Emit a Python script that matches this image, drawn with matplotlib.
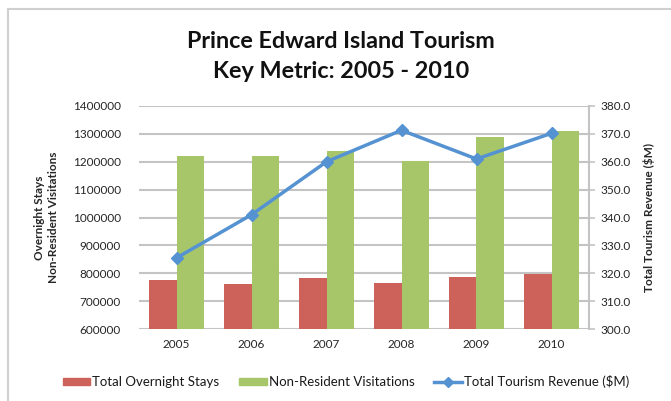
import matplotlib.pyplot as plt
import numpy as np
from matplotlib.lines import Line2D
from matplotlib.patches import Patch, Rectangle
from matplotlib.ticker import FormatStrFormatter, MultipleLocator

plt.rcParams['font.family'] = ['Lato', 'DejaVu Sans']

years = ['2005', '2006', '2007', '2008', '2009', '2010']
overnight_stays = [774000, 762000, 783000, 766000, 786000, 798000]
non_resident_visits = [1222000, 1222000, 1237000, 1201000, 1290000, 1310000]
revenue = [325.5, 341.0, 360.0, 371.3, 361.0, 370.2]

RED = '#CD625B'
GREEN = '#A7C66A'
BLUE = '#5592D2'
GRID = '#C4C4C4'
TEXT = '#262626'

fig = plt.figure(figsize=(6.71, 4.01), dpi=100)

# light frame around the chart area
fig.patches.append(Rectangle((8 / 671, -0.1), 1.2, 1.1 - 9 / 401,
                             transform=fig.transFigure, fill=False,
                             edgecolor='#D0D0D0', linewidth=1.5))

ax1 = fig.add_axes([139 / 671, 1 - 329 / 401, 450 / 671, 223 / 401])
x = np.arange(len(years))
w = 0.37

ax1.bar(x - w / 2, overnight_stays, w, color=RED, zorder=2)
ax1.bar(x + w / 2, non_resident_visits, w, color=GREEN, zorder=2)

ax1.set_xlim(-0.5, len(years) - 0.5)
ax1.set_ylim(600000, 1400000)
ax1.yaxis.set_major_locator(MultipleLocator(100000))
ax1.yaxis.set_major_formatter(FormatStrFormatter('%d'))
ax1.yaxis.grid(True, color=GRID, linewidth=1.5, zorder=0)
ax1.set_axisbelow(True)
ax1.set_xticks(x)
ax1.set_xticklabels(years)
ax1.tick_params(axis='both', length=0, labelsize=8.5, colors=TEXT, pad=7)
ax1.tick_params(axis='y', pad=13)
for s in ax1.spines.values():
    s.set_visible(False)
ax1.set_ylabel('Overnight Stays\nNon-Resident Visitations', fontsize=8.5,
               fontweight='bold', color=TEXT, labelpad=10, linespacing=1.35)

# revenue on the secondary axis
ax2 = ax1.twinx()
ax2.plot(x, revenue, color=BLUE, linewidth=2.5, marker='D', markersize=6,
         zorder=3)
ax2.set_ylim(300, 380)
ax2.yaxis.set_major_locator(MultipleLocator(10))
ax2.yaxis.set_major_formatter(FormatStrFormatter('%.1f'))
ax2.tick_params(axis='y', direction='out', length=4, width=1.2, color=GRID,
                labelsize=8.5, labelcolor=TEXT, pad=4)
for k, s in ax2.spines.items():
    s.set_visible(k == 'right')
ax2.spines['right'].set_color(GRID)
ax2.spines['right'].set_linewidth(1.5)
ax2.set_ylabel('Total Tourism Revenue ($M)', fontsize=8.5, fontweight='bold',
               color=TEXT, labelpad=9)

fig.text(0.508, 1 - 42 / 401, 'Prince Edward Island Tourism', ha='center',
         va='center', fontsize=16.8, fontweight='bold', color='#111111')
fig.text(0.508, 1 - 72 / 401, 'Key Metric: 2005 - 2010', ha='center',
         va='center', fontsize=16.8, fontweight='bold', color='#111111')

handles = [
    Patch(color=RED, label='Total Overnight Stays'),
    Patch(color=GREEN, label='Non-Resident Visitations'),
    Line2D([], [], color=BLUE, linewidth=2.5, marker='D', markersize=5,
           label='Total Tourism Revenue ($M)'),
]
fig.legend(handles=handles, loc='center', bbox_to_anchor=(0.5156, 1 - 382 / 401),
           ncol=3, frameon=False, fontsize=9.5, handlelength=2.1,
           handleheight=0.45, handletextpad=0.15, columnspacing=1.5,
           labelcolor='#1A1A1A')

fig.savefig('out.png', dpi=100, facecolor='white')
